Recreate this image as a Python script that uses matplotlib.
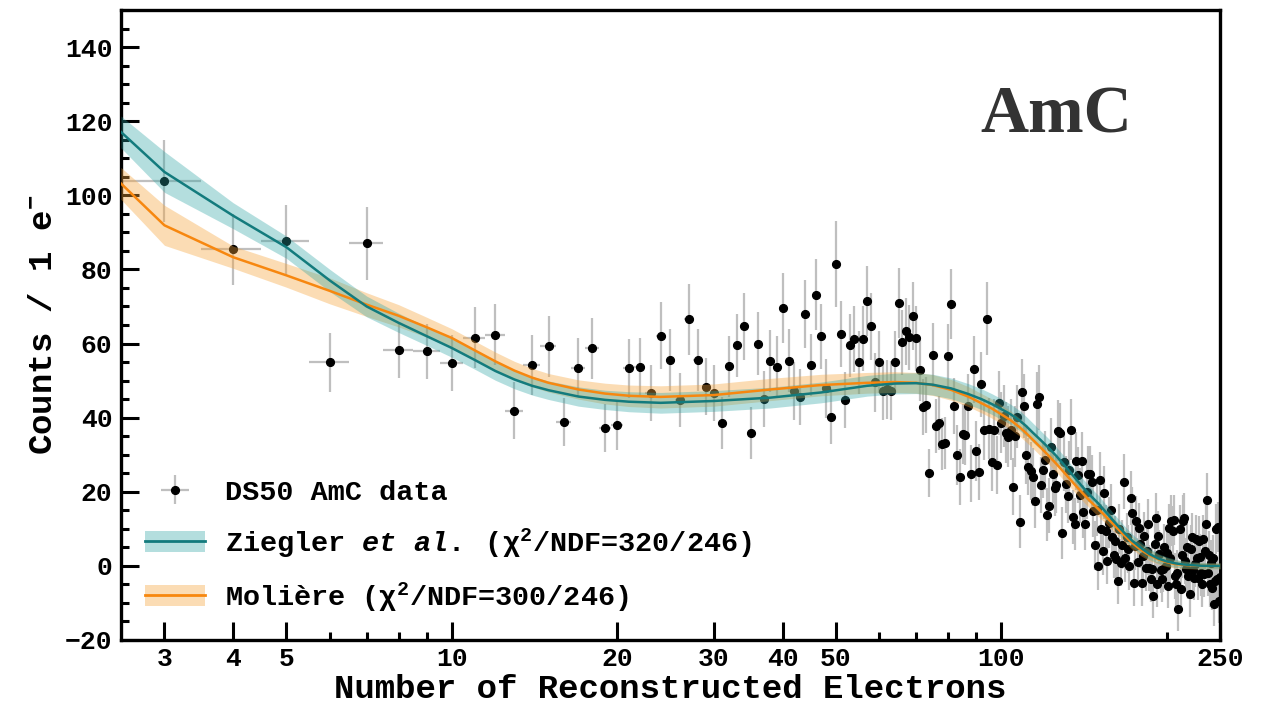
import numpy as np
import matplotlib
matplotlib.use("Agg")
import matplotlib.pyplot as plt
from matplotlib.ticker import FixedLocator, NullFormatter, FixedFormatter
from matplotlib.patches import Patch
from matplotlib.lines import Line2D

# ---------------- data ----------------
n_start, n_stop = 3, 250
counts = [
    103.8, 85.4, 87.8, 54.9, 87.0, 58.3, 57.9, 54.8, 61.6, 62.4,          # 3-12
    41.9, 54.2, 59.2, 38.8, 53.5, 58.7, 37.2, 37.9, 53.3, 53.6,           # 13-22
    46.7, 62.1, 55.6, 44.8, 66.5, 55.5, 48.4, 46.7, 38.6, 53.9,           # 23-32
    59.5, 64.6, 35.9, 60.0, 45.0, 55.2, 53.8, 69.6, 55.4, 47.2,           # 33-42
    45.5, 67.9, 54.2, 73.2, 62.0, 47.9, 40.3, 81.5, 62.6, 44.8,           # 43-52
    59.5, 61.2, 54.9, 61.3, 71.4, 64.6, 49.5, 55.1, 47.3, 47.6,           # 53-62
    47.3, 54.9, 70.9, 60.3, 63.3, 61.7, 67.5, 61.4, 52.8, 42.8,           # 63-72
    43.4, 25.1, 57.0, 37.7, 38.6, 33.0, 33.2, 56.6, 70.6, 43.2,           # 73-82
    29.9, 23.9, 35.6, 35.3, 43.2, 24.9, 53.0, 31.0, 25.4, 49.0,           # 83-92
    36.8, 66.7, 37.0, 28.0, 36.7, 27.2, 44.0, 38.6, 40.5, 35.9,           # 93-102
    34.9, 36.8, 21.4, 35.0, 40.3, 11.9, 47.0, 43.2, 30.0, 26.8,           # 103-112
    25.7, 23.9, 17.5, 43.7, 45.5, 21.8, 26.0, 28.5, 13.8, 16.2,           # 113-122
    32.0, 24.8, 21.0, 21.8, 36.5, 35.8, 8.9, 27.9, 22.0, 18.9,            # 123-132
    26.0, 36.8, 13.2, 11.3, 28.2, 24.5, 19.0, 28.2, 14.6, 11.3,           # 133-142
    20.0, 24.8, 24.8, 22.5, 14.9, 5.6, 15.0, 0.0, 23.2, 9.9,              # 143-152
    4.1, 19.8, 9.5, 1.4, 11.7, 15.0, 7.7, 3.0, 6.8, 1.8,                  # 153-162
    -4.0, 10.0, 0.9, 5.7, 22.7, 2.0, 7.7, 4.5, 0.0, 18.3,                 # 163-172
    14.4, -4.5, 5.4, 12.0, 1.0, 10.2, 6.0, -4.5, 2.7, 8.0,                # 173-182
    -0.5, 4.0, 11.3, -0.5, -3.6, -0.9, -8.1, 6.0, 12.8, -5.0,             # 183-192
    8.1, 3.2, -1.0, -3.6, -0.9, 5.0, 0.0, 3.5, -5.4, 10.2,                # 193-202
    2.0, 12.2, 9.5, 12.4, -2.7, -5.0, -1.8, -11.7, 9.9, -6.3,             # 203-212
    3.0, 12.2, 12.9, 1.4, -0.9, 5.0, -2.7, -7.7, 4.5, 7.7,                # 213-222
    -1.0, -3.2, 0.5, 7.2, 2.0, -3.2, 6.8, 2.3, -2.0, -5.0,                # 223-232
    7.2, -2.3, 4.1, 11.3, 17.8, -1.8, 3.0, -5.0, 0.9, -5.9,               # 233-242
    2.0, -10.4, -4.0, 10.0, -3.6, 10.5, -9.5, -3.0,                       # 243-250
]
errors = [
    11.0, 9.6, 9.7, 8.0, 9.8, 7.5, 7.5, 7.5, 8.3, 8.3,
    7.6, 8.0, 8.3, 6.5, 8.0, 8.3, 6.5, 6.6, 8.0, 8.0,
    7.5, 9.1, 8.3, 7.3, 9.5, 8.3, 7.8, 7.6, 7.0, 8.2,
    8.6, 9.0, 7.0, 8.6, 7.6, 8.4, 8.2, 9.4, 8.4, 7.8,
    7.6, 9.2, 8.4, 9.6, 8.8, 7.9, 7.4, 11.7, 8.8, 7.6,
    8.6, 8.8, 8.4, 8.8, 9.4, 9.0, 8.0, 8.4, 8.0, 8.0,
    8.0, 8.4, 9.4, 8.8, 9.0, 8.8, 9.2, 8.8, 8.2, 7.6,
    7.6, 6.5, 8.6, 7.2, 7.2, 7.0, 7.0, 8.6, 9.4, 7.6,
    8.0, 7.6, 8.2, 8.2, 8.6, 7.6, 9.0, 8.0, 7.6, 8.8,
    8.2, 9.8, 8.2, 7.8, 8.2, 7.8, 8.6, 8.2, 8.4, 8.2,
    8.2, 8.2, 7.6, 8.2, 8.4, 7.2, 8.8, 8.6, 8.0, 7.8,
    7.8, 7.8, 7.4, 8.6, 8.8, 7.6, 7.8, 8.0, 7.2, 7.4,
    8.0, 7.8, 7.6, 7.6, 8.2, 8.2, 7.0, 7.8, 7.6, 7.4,
    7.8, 8.2, 7.2, 7.0, 7.8, 7.6, 7.4, 7.8, 7.2, 7.0,
    7.4, 7.6, 7.6, 7.4, 7.0, 6.6, 7.0, 6.6, 7.4, 6.8,
    6.6, 7.2, 6.8, 6.4, 6.8, 7.0, 6.6, 6.4, 6.6, 6.4,
    6.2, 6.8, 6.4, 6.6, 7.4, 6.4, 6.6, 6.4, 6.4, 7.2,
    7.0, 6.2, 6.6, 6.8, 6.4, 6.8, 6.6, 6.2, 6.4, 6.6,
    6.2, 6.4, 6.8, 6.2, 6.2, 6.2, 6.0, 6.4, 6.8, 6.0,
    6.6, 6.4, 6.2, 6.2, 6.2, 6.4, 6.2, 6.4, 6.0, 6.6,
    6.4, 6.8, 6.6, 6.8, 6.2, 6.0, 6.2, 5.8, 6.6, 6.0,
    6.4, 6.8, 6.8, 6.2, 6.2, 6.4, 6.2, 6.0, 6.4, 6.6,
    6.2, 6.0, 6.2, 6.6, 6.2, 6.0, 6.6, 6.2, 6.2, 6.0,
    6.6, 6.2, 6.4, 6.8, 7.2, 6.2, 6.4, 6.0, 6.2, 6.0,
    6.2, 5.8, 6.0, 6.8, 6.0, 6.8, 5.8, 6.0,
]
n_electrons = np.arange(n_start, n_stop + 1)
assert len(counts) == len(n_electrons) == len(errors)

# model curves (evaluated at these numbers of electrons)
model_n = [2.5, 3, 4, 5, 6, 7, 8, 9, 10,
           11, 12, 13, 14, 15, 17, 19, 21, 24,
           30, 38, 47, 57, 64, 70, 75, 81, 87, 92,
           96, 100, 104, 108, 111, 114, 118, 122, 126, 131,
           135, 140, 145, 150, 155, 161, 167, 173, 180, 186,
           193, 200, 207, 214, 222, 230, 240, 250]
ziegler = [117.1, 106.3, 94.5, 86.0, 77.0, 70.0, 65.6, 62.0, 58.8,
           55.6, 52.6, 50.3, 48.6, 47.4, 45.7, 44.8, 44.3, 44.0,
           44.5, 45.4, 46.8, 48.6, 49.2, 49.3, 48.9, 47.9, 46.4, 45.0,
           43.7, 42.3, 40.9, 39.2, 37.7, 36.0, 33.9, 31.8, 29.6, 26.7,
           24.4, 21.6, 19.1, 16.9, 14.5, 11.7, 9.1, 6.8, 4.7, 3.2,
           2.0, 1.2, 0.7, 0.4, 0.2, 0.05, 0.0, 0.0]
ziegler_unc = [4.3, 5.5, 3.5, 3.0, 3.0, 2.8, 2.6, 2.5, 2.5,
               2.5, 2.5, 2.5, 2.5, 2.5, 2.6, 2.6, 2.7, 2.8,
               2.8, 2.8, 2.8, 2.8, 2.8, 2.8, 2.8, 2.8, 2.8, 2.8,
               2.8, 2.8, 2.7, 2.7, 2.6, 2.6, 2.5, 2.5, 2.4, 2.4,
               2.3, 2.3, 2.2, 2.2, 2.1, 2.0, 1.9, 1.8, 1.6, 1.5,
               1.3, 1.2, 1.1, 1.0, 0.9, 0.9, 0.8, 0.8]
moliere = [103.2, 91.9, 83.3, 78.4, 74.2, 70.5, 67.5, 64.4, 61.5,
           58.2, 55.2, 52.7, 50.8, 49.4, 47.6, 46.5, 45.9, 45.6,
           46.1, 47.6, 48.8, 49.4, 49.6, 49.4, 48.8, 47.5, 45.7, 43.9,
           42.5, 40.9, 39.3, 37.4, 35.8, 34.1, 31.9, 29.7, 27.5, 24.7,
           22.5, 19.9, 17.5, 15.4, 13.3, 10.8, 8.4, 6.2, 4.2, 2.9,
           1.8, 1.0, 0.5, 0.3, 0.1, 0.0, 0.0, 0.0]
moliere_unc = [4.3, 5.4, 3.0, 3.2, 3.5, 3.2, 3.0, 2.7, 2.5,
               2.5, 2.5, 2.5, 2.5, 2.5, 2.6, 2.8, 2.9, 3.0,
               3.0, 3.0, 2.9, 2.8, 2.8, 2.8, 2.8, 2.8, 2.7, 2.6,
               2.6, 2.5, 2.5, 2.4, 2.4, 2.3, 2.3, 2.3, 2.2, 2.2,
               2.1, 2.1, 2.0, 2.0, 1.9, 1.8, 1.7, 1.7, 1.6, 1.5,
               1.3, 1.2, 1.1, 1.0, 0.9, 0.9, 0.8, 0.8]
assert len(model_n) == len(ziegler) == len(ziegler_unc) == len(moliere) == len(moliere_unc)

x_major = [3, 4, 5, 10, 20, 30, 40, 50, 100, 250]
x_major_labels = ["3", "4", "5", "10", "20", "30", "40", "50", "100", "250"]
x_minor = [6, 7, 8, 9, 60, 70, 80, 90, 200]

labels = ["DS50 AmC data",
          r"Ziegler $\mathit{et}$ $\mathit{al.}$ (χ$^2$/NDF=320/246)",
          r"Molière (χ$^2$/NDF=300/246)"]

# ---------------- style ----------------
MONO = "Liberation Mono"
plt.rcParams["font.family"] = [MONO, "DejaVu Sans"]
plt.rcParams["font.weight"] = "bold"
plt.rcParams["mathtext.fontset"] = "custom"
plt.rcParams["mathtext.rm"] = MONO + ":bold"
plt.rcParams["mathtext.it"] = MONO + ":italic:bold"
plt.rcParams["mathtext.bf"] = MONO + ":bold"

teal_line = "#137b7d"
teal_band = "#2aa3a3"
orange_line = "#f7870f"
orange_band = "#f7a43a"

fig = plt.figure(figsize=(12.69, 7.06), dpi=100)
ax = fig.add_axes([0.0953, 0.0935, 0.8661, 0.8923])

eb = ax.errorbar(n_electrons, counts, yerr=errors, xerr=0.5, fmt="o", color="black",
                 ms=5.6, ecolor="#bfbfbf", elinewidth=1.6, capsize=0, zorder=2)

zn = np.array(ziegler); zu = np.array(ziegler_unc)
mn = np.array(moliere); mu = np.array(moliere_unc)

ax.fill_between(model_n, mn - mu, mn + mu, color=orange_band, alpha=0.38, lw=0, zorder=3)
ax.fill_between(model_n, zn - zu, zn + zu, color=teal_band, alpha=0.35, lw=0, zorder=3)
ax.plot(model_n, moliere, color=orange_line, lw=1.8, zorder=4)
ax.plot(model_n, ziegler, color=teal_line, lw=1.8, zorder=5)

ax.set_xscale("log")
ax.set_xlim(2.5, 250)
ax.set_ylim(-20, 150)

ax.xaxis.set_major_locator(FixedLocator(x_major))
ax.xaxis.set_major_formatter(FixedFormatter(x_major_labels))
ax.xaxis.set_minor_locator(FixedLocator(x_minor))
ax.xaxis.set_minor_formatter(NullFormatter())
ax.yaxis.set_major_locator(FixedLocator(np.arange(-20, 141, 20)))
ax.yaxis.set_minor_locator(FixedLocator(np.arange(-20, 151, 5)))

ax.tick_params(which="both", direction="in", top=False, right=False, width=2.2,
               labelsize=19, colors="black")
ax.tick_params(which="major", length=13)
ax.tick_params(which="minor", length=6)
ax.tick_params(axis="y", pad=6)
ax.tick_params(axis="x", pad=5)
for lab in ax.get_xticklabels() + ax.get_yticklabels():
    lab.set_fontweight("bold")
for sp in ax.spines.values():
    sp.set_linewidth(2.4)

ax.set_xlabel("Number of Reconstructed Electrons", fontsize=24.5, fontweight="bold", labelpad=2)
ax.set_ylabel(r"Counts / 1 e$^{\mathbf{-}}$", fontsize=24.5, fontweight="bold", labelpad=4)

ax.text(0.92, 0.805, "AmC", transform=ax.transAxes, ha="right", va="baseline",
        fontsize=48, fontweight="bold", family="Liberation Serif", color="#333333")

h_z = (Patch(facecolor=teal_band, alpha=0.35, lw=0), Line2D([], [], color=teal_line, lw=2))
h_m = (Patch(facecolor=orange_band, alpha=0.38, lw=0), Line2D([], [], color=orange_line, lw=2))
leg = ax.legend([eb, h_z, h_m], labels, loc="lower left", bbox_to_anchor=(0.022, 0.042),
                frameon=False, fontsize=20.5, handlelength=2.1, handleheight=0.75,
                handletextpad=0.7, labelspacing=0.7, borderpad=0, borderaxespad=0)
for t in leg.get_texts():
    t.set_fontweight("bold")

fig.savefig("out.png", dpi=100)
